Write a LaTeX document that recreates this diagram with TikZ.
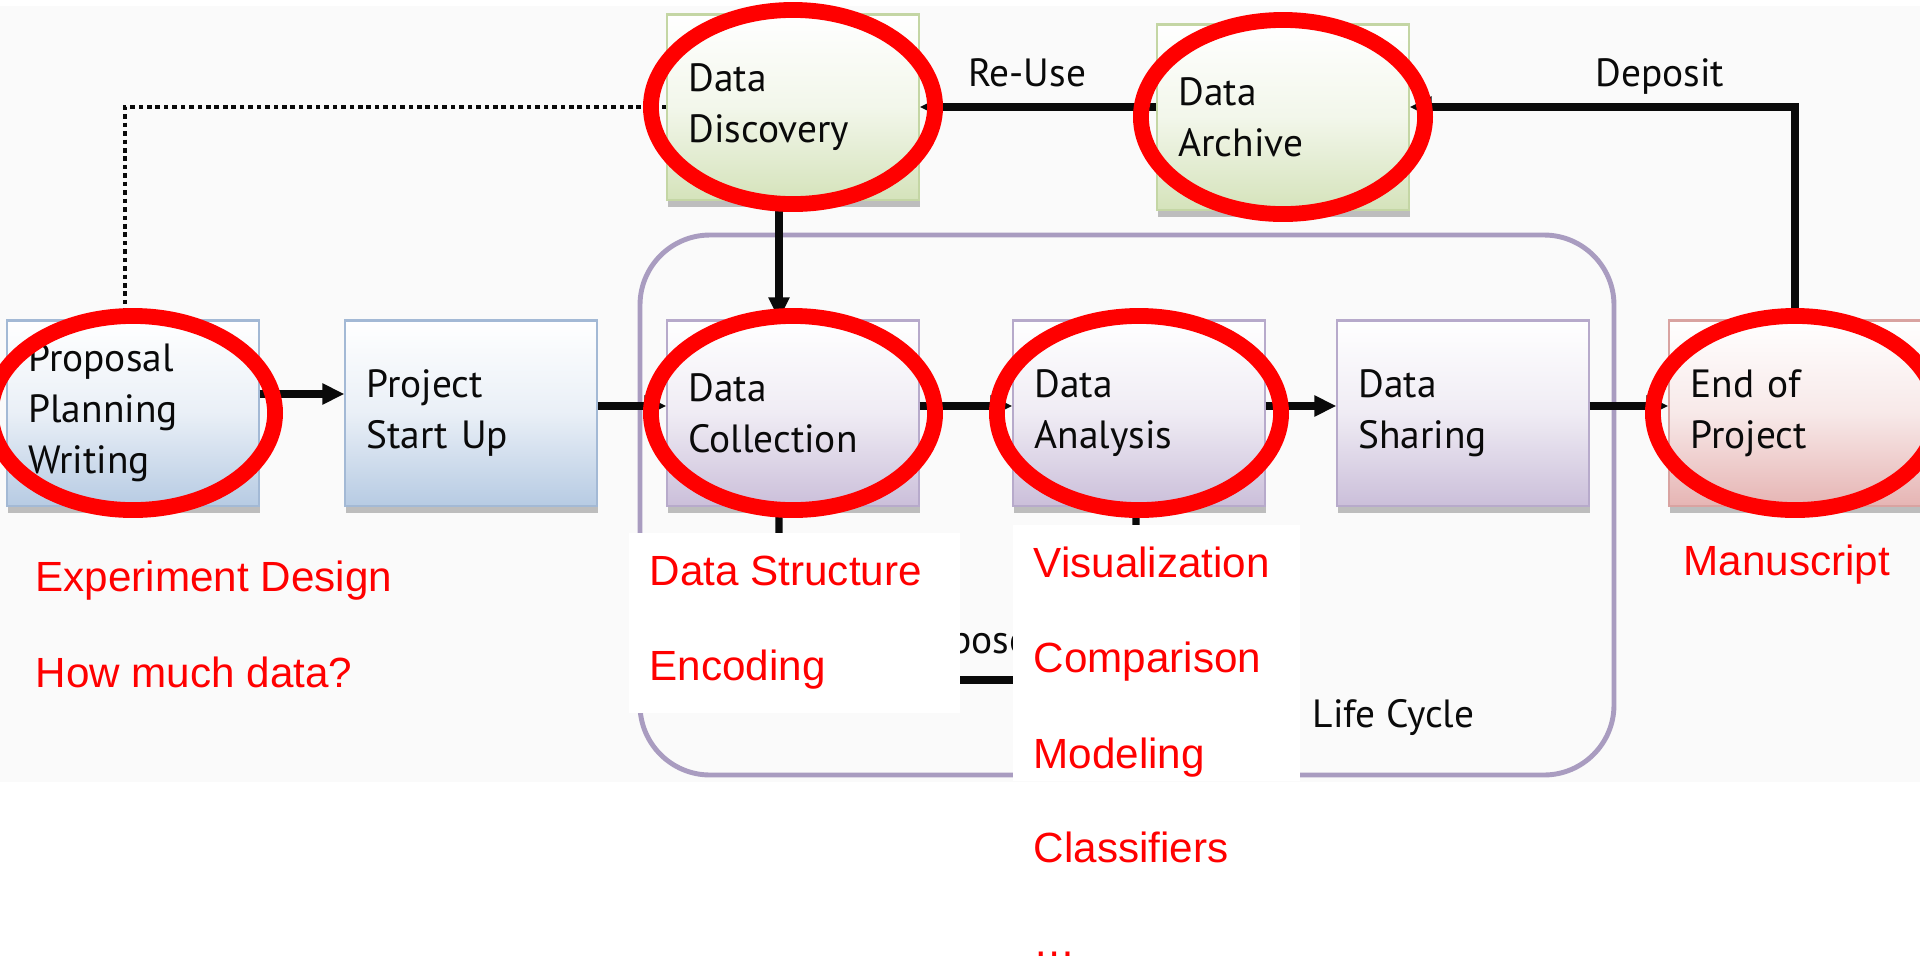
\documentclass[tikz,border=0pt]{standalone}
\usepackage{fontspec}
\setsansfont{PT Sans}
\newfontfamily\notefont{Liberation Sans}
\usetikzlibrary{arrows.meta,positioning,calc,shadows}
\definecolor{Ink}{HTML}{0A0A0A}
\definecolor{BlueBox}{HTML}{B7CBE3}
\definecolor{BlueLine}{HTML}{A3B9D5}
\definecolor{LilacBox}{HTML}{CBBFDA}
\definecolor{LilacLine}{HTML}{B7AACB}
\definecolor{SageBox}{HTML}{D5E3BB}
\definecolor{SageLine}{HTML}{C4D6A4}
\definecolor{RoseBox}{HTML}{E6B5B4}
\definecolor{RoseLine}{HTML}{D9A3A1}
\definecolor{Frame}{HTML}{A99CC0}
\definecolor{Mark}{HTML}{FF0000}
\newcommand{\Stage}[5]{%
  \node[stage,#2] (#1) at (#3,#4) {#5};%
}
\newcommand{\RedNote}[4]{%
  \node[note] (#1) at (#2,#3) {#4};%
}

\begin{document}
\begin{tikzpicture}[x=0.01cm,y=-0.01cm,
  stage/.style={rectangle,line width=0.6pt,minimum width=2.51cm,minimum height=1.85cm,
    text width=2.09cm,inner xsep=0.21cm,align=left,text=Ink,
    font=\sffamily\fontsize{11.2}{14.5}\selectfont,
    drop shadow={shadow xshift=0.01cm,shadow yshift=-0.07cm,fill=black!45,opacity=0.55}},
  blue/.style={draw=BlueLine,top color=white,bottom color=BlueBox,middle color=BlueBox!30},
  lilac/.style={draw=LilacLine,top color=white,bottom color=LilacBox,middle color=LilacBox!30},
  sage/.style={draw=SageLine,top color=white,bottom color=SageBox,middle color=SageBox!30},
  rose/.style={draw=RoseLine,top color=white,bottom color=RoseBox,middle color=RoseBox!30},
  flow/.style={draw=Ink,line width=2pt,-{Triangle[length=0.22cm,width=0.2cm]}},
  seek/.style={draw=Ink,line width=1.4pt,dash pattern=on 1.3pt off 1.1pt,
    -{Triangle[length=0.1cm,width=0.13cm]}},
  tag/.style={text=Ink,inner sep=0pt,font=\sffamily\fontsize{11.2}{14.5}\selectfont},
  ring/.style={draw=Mark,line width=4.5pt},
  note/.style={anchor=base west,inner sep=0pt,text=Mark,font=\notefont\fontsize{12}{14}\selectfont},
  cover/.style={fill=white,draw=none}]
\useasboundingbox (0,0) rectangle (1920,960);
\clip (0,0) rectangle (1920,960);
\fill[black!2] (0,6) rectangle (1920,782);
% life cycle frame
\draw[Frame,line width=1.4pt,rounded corners=0.7cm] (640,235) rectangle (1614,775);
% stages
\Stage{prop}{blue}{133}{413}{Proposal\\Planning\\Writing}
\Stage{proj}{blue}{471}{413}{Project\\Start Up}
\Stage{coll}{lilac}{793}{413}{Data\\Collection}
\Stage{anly}{lilac}{1139}{413}{Data\\Analysis}
\Stage{shar}{lilac}{1463}{413}{Data\\Sharing}
\Stage{endp}{rose}{1795}{413}{End of\\Project}
\Stage{disc}{sage}{793}{107}{Data\\Discovery}
\Stage{arch}{sage}{1283}{117}{Data\\Archive}
% connectors
\draw[flow] ([yshift=0.19cm]prop.east) -- ([yshift=0.19cm]proj.west);
\draw[flow] ([yshift=0.07cm]proj.east) -- ([yshift=0.07cm]coll.west);
\draw[flow] ([yshift=0.07cm]coll.east) -- ([yshift=0.07cm]anly.west);
\draw[flow] ([yshift=0.07cm]anly.east) -- ([yshift=0.07cm]shar.west);
\draw[flow] ([yshift=0.07cm]shar.east) -- ([yshift=0.07cm]endp.west);
\draw[flow] ([xshift=-0.14cm]disc.south) -- ([xshift=-0.14cm]coll.north);
\draw[flow] (arch.west |- disc.east) -- (disc.east);
\draw[flow] (endp.north) |- (arch.east |- disc.east);
\draw[seek] (disc.west) -| ([xshift=-0.08cm]prop.north);
\node[tag,anchor=base] (reuse) at (1027,86) {Re-Use};
\node[tag,anchor=base] (depo) at (1660,86) {Deposit};
% legend remains
\coordinate (collend) at (779,560);
\coordinate (anlyend) at (1136,560);
\draw[Ink,line width=2pt] ([xshift=-0.14cm]coll.south) -- (collend);
\draw[Ink,line width=2pt] ([xshift=-0.03cm]anly.south) -- (anlyend);
\coordinate (legl) at (900,680);
\coordinate (legr) at (1080,680);
\draw[Ink,line width=2pt] (legl) -- (legr);
\node[tag,anchor=base east] (purp) at (1030,653) {Purpose};
\node[tag,anchor=base west] (cycle) at (1312,727) {Life Cycle};
\fill[cover] (629,533) rectangle (960,713);
\fill[cover] (1013,525) rectangle (1300,781);
% marks
\foreach \n in {prop,disc,arch,coll,anly,endp}
  \draw[ring] (\n.center) ellipse [x radius=1.42cm,y radius=0.97cm];
\RedNote{expd}{35}{591}{Experiment Design}
\RedNote{much}{35}{687}{How much data?}
\RedNote{dstr}{649}{585}{Data Structure}
\RedNote{enco}{649}{680}{Encoding}
\RedNote{visu}{1033}{577}{Visualization}
\RedNote{comp}{1033}{672}{Comparison}
\RedNote{mode}{1033}{768}{Modeling}
\RedNote{clas}{1033}{862}{Classifiers}
\RedNote{more}{1033}{956}{…}
\RedNote{manu}{1683}{575}{Manuscript}
\end{tikzpicture}
\end{document}
